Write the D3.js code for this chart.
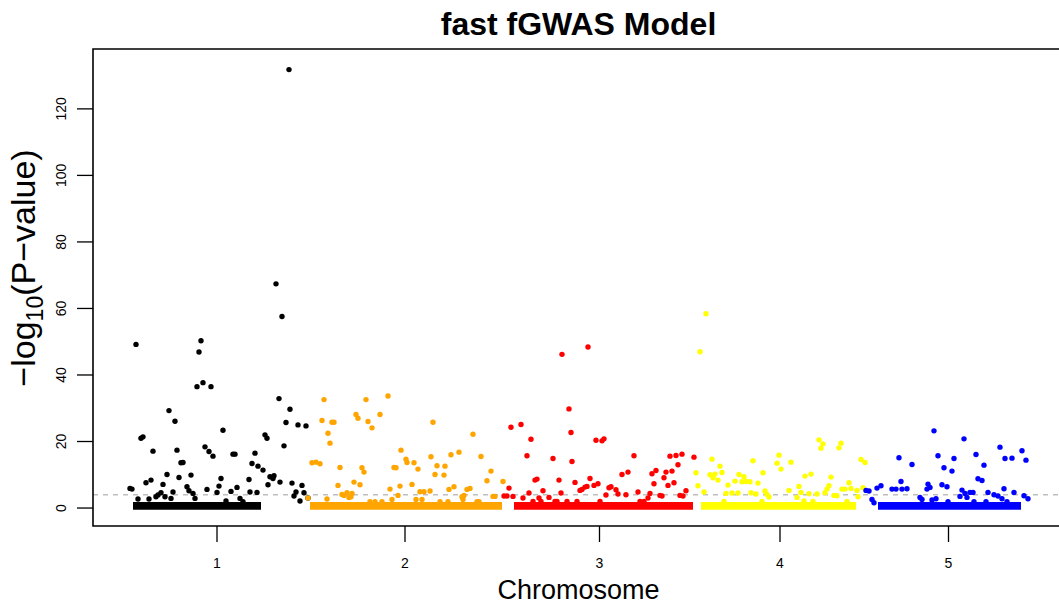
<!DOCTYPE html>
<html><head><meta charset="utf-8">
<script src="https://cdn.jsdelivr.net/npm/d3@7"></script>
<style>body{margin:0;background:#fff}svg{display:block}text{font-family:"Liberation Sans",Arial,Helvetica,sans-serif}</style>
</head><body><svg id="chart" width="1059" height="604"></svg>
<script>
// ---- data ----
const chromosomes = ["1","2","3","4","5"];
const chrColors = ["#000000","#FFA500","#FF0000","#FFFF00","#0000FF"];
const chrStart = [0,182,378,570,739];
const chrEnd   = [182,376,569,738,906];
// dense low-significance SNP bands (cumulative position ranges)
const bandStart = [7,184,388,575,752];
const bandEnd   = [135,376,567,730,895];
const bandLow = 0.3, bandHigh = 1.0;
const threshold = 4.0;
const yTicks = [0,20,40,60,80,100,120];

const chr1Pos = [10,75,73,71,77,85,150,156,163,43,49,153,164,160,172,180,15,17,97,139,141,27,51,79,83,87,55,57,107,109,129,158,126,132,137,144,148,147,154,166,176,41,65,53,20,25,37,95,123,142,4,6,61,63,67,81,93,91,111,105,124,131,170,168,178,174,182,30,32,35,39,47,45,12,23,69,100,114,117];
const chr1LogP = [49.2,50.3,46.9,36.5,37.7,36.5,67.4,57.6,131.8,29.3,26.1,32.9,29.7,25.7,25.0,24.7,21.0,21.4,23.4,22.0,21.0,17.1,17.4,18.4,17.0,15.6,13.6,13.7,16.2,16.2,16.5,18.7,13.4,12.6,11.4,9.4,9.7,8.9,7.8,7.5,6.8,10.1,9.9,9.2,7.6,8.4,7.1,8.9,8.6,7.0,5.9,5.7,6.4,5.2,4.4,5.6,6.6,4.7,6.2,5.0,4.8,4.7,4.8,3.6,4.6,2.1,3.0,3.4,3.9,4.6,3.4,4.8,2.9,2.7,2.7,2.9,2.1,2.9,1.9];

const chr2Pos = [198,240,262,196,206,208,230,232,254,242,246,202,204,307,347,275,186,190,194,214,236,238,280,281,288,292,268,270,305,311,319,309,318,325,333,355,365,361,377,228,234,212,274,264,286,328,323,341,344,216,221,223,225,226,218,294,298,304,272,266,290,296,336,338,337,367,369,182,201,244,249,256,314,322,351,353];
const chr2LogP = [32.6,32.6,33.7,26.3,25.8,25.8,28.1,27.0,28.1,26.0,24.1,22.5,19.5,25.8,22.2,17.4,13.6,13.8,13.3,12.2,12.1,10.8,14.7,13.7,13.6,11.7,12.2,12.1,15.4,12.7,12.6,10.1,9.9,16.0,16.8,15.5,11.1,8.2,8.0,7.8,7.0,6.8,6.6,5.7,7.1,6.4,5.6,5.6,5.9,4.1,4.6,3.2,3.4,4.4,3.8,4.9,4.9,5.1,3.8,2.6,2.6,2.6,3.4,3.8,2.6,3.5,3.5,3.0,2.7,1.9,1.9,1.9,1.9,1.9,1.9,1.9];

const chr3Pos = [436,462,443,445,385,395,405,470,476,478,401,427,446,508,544,550,556,568,552,526,530,496,502,540,546,538,409,411,433,464,449,459,468,472,461,483,485,454,456,528,542,548,383,417,435,490,492,403,560,554,557,378,381,387,480,500,512,524,534,536,397,413,423,522,407,415,429,431,441,451,474,514,518];
const chr3LogP = [46.2,48.4,29.8,22.7,24.3,25.1,20.7,20.4,20.2,20.8,15.7,14.9,14.0,15.7,15.6,15.8,16.2,15.3,13.0,10.3,11.3,10.1,10.8,10.8,11.1,9.1,8.4,8.7,8.4,8.9,7.7,6.3,6.8,7.3,6.5,6.1,6.4,5.3,5.6,7.3,6.8,7.6,6.0,5.2,4.5,5.5,4.2,4.5,5.2,3.8,3.6,3.6,3.6,3.5,3.9,4.0,4.8,4.4,3.8,3.6,3.0,3.0,3.2,3.0,2.0,2.0,2.0,2.0,2.0,2.0,2.0,2.0,2.0];

const chr4Pos = [580,574,693,697,695,715,713,586,653,651,655,665,627,735,739,594,596,570,584,589,587,592,637,613,618,616,620,624,609,632,679,685,705,572,602,673,675,703,701,699,723,725,716,719,737,731,578,600,606,612,625,630,639,641,643,663,671,678,683,691,708,711,732,598,636,687,721];
const chr4LogP = [58.4,47.0,20.5,19.3,18.0,19.5,18.1,14.7,15.9,13.5,11.7,13.8,14.2,14.6,13.7,12.6,10.7,10.6,10.0,10.2,9.1,8.4,10.6,10.1,9.4,7.9,8.0,7.9,8.1,7.5,9.6,10.2,9.3,6.7,6.9,6.5,4.7,6.7,5.7,4.6,7.6,5.9,5.7,5.7,6.1,5.3,4.8,4.4,4.5,4.5,4.6,4.2,5.1,4.1,3.3,5.3,3.2,2.1,4.3,4.2,3.8,3.7,3.4,2.0,2.0,2.0,2.0];

const chr5Pos = [808,838,874,896,900,879,886,773,812,828,850,786,818,826,858,775,852,856,755,751,802,801,804,816,821,766,770,776,781,740,743,836,839,844,847,834,841,862,868,872,876,878,888,898,902,794,796,806,810,746,748,822,848,860,881];
const chr5LogP = [23.2,20.8,18.3,17.2,14.4,14.9,15.0,15.1,15.7,14.9,16.1,13.1,12.1,11.1,12.9,8.0,8.8,8.3,6.7,6.0,7.2,5.7,6.2,7.0,6.4,5.7,5.7,5.7,5.8,5.3,5.1,5.4,4.4,4.7,4.7,3.5,3.2,4.7,4.0,3.6,2.8,5.8,4.7,3.7,2.8,3.2,2.6,2.4,2.8,2.6,1.6,1.9,1.9,1.9,1.9];

const posArrays = [chr1Pos,chr2Pos,chr3Pos,chr4Pos,chr5Pos];
const valArrays = [chr1LogP,chr2LogP,chr3LogP,chr4LogP,chr5LogP];

// ---- layout ----
const svg = d3.select("#chart");
const L = 93, R = 1064, T = 49, B = 526;
const x = d3.scaleLinear().domain([-33, 938]).range([L, R]);
const y = d3.scaleLinear().domain([-5.4, 138.0]).range([B, T]);
const ptR = 2.7;

// threshold line
svg.append("line").attr("x1", L).attr("x2", R)
  .attr("y1", y(threshold)).attr("y2", y(threshold))
  .attr("stroke", "#BEBEBE").attr("stroke-width", 1.3).attr("stroke-dasharray", "5,5");

// bands
svg.append("g").selectAll("rect").data(chromosomes).join("rect")
  .attr("x", (d,i) => x(bandStart[i]))
  .attr("width", (d,i) => x(bandEnd[i]) - x(bandStart[i]))
  .attr("y", y(bandHigh) - ptR)
  .attr("height", y(bandLow) - y(bandHigh) + 2*ptR)
  .attr("fill", (d,i) => chrColors[i]);

// points
chromosomes.forEach((c, i) => {
  const pts = posArrays[i].map((p, j) => ({p, v: valArrays[i][j]}));
  svg.append("g").selectAll("circle").data(pts).join("circle")
    .attr("cx", d => x(d.p)).attr("cy", d => y(d.v)).attr("r", ptR)
    .attr("fill", chrColors[i]);
});

// box (left, top, bottom)
svg.append("path")
  .attr("d", `M${R},${T}H${L}V${B}H${R}`)
  .attr("fill", "none").attr("stroke", "#000").attr("stroke-width", 1.6);

// y axis
const yAxis = svg.append("g");
yAxis.selectAll("line").data(yTicks).join("line")
  .attr("x1", L - 16).attr("x2", L).attr("y1", d => y(d)).attr("y2", d => y(d))
  .attr("stroke", "#000").attr("stroke-width", 1.3);
yAxis.selectAll("text").data(yTicks).join("text")
  .attr("transform", d => `translate(${L - 27},${y(d)}) rotate(-90)`)
  .attr("text-anchor", "middle").attr("font-size", 14).text(d => d);

// x axis
const tickPos = chromosomes.map((c,i) => (chrStart[i] + chrEnd[i]) / 2);
const xAxis = svg.append("g");
xAxis.selectAll("line").data(tickPos).join("line")
  .attr("x1", d => x(d)).attr("x2", d => x(d)).attr("y1", B).attr("y2", B + 16)
  .attr("stroke", "#000").attr("stroke-width", 1.3);
xAxis.selectAll("text").data(chromosomes).join("text")
  .attr("x", (d,i) => x(tickPos[i])).attr("y", B + 42)
  .attr("text-anchor", "middle").attr("font-size", 14).text(d => d);

// titles
svg.append("text").attr("x", (L + R) / 2).attr("y", 35)
  .attr("text-anchor", "middle").attr("font-size", 32).attr("font-weight", "bold")
  .text("fast fGWAS Model");
svg.append("text").attr("x", (L + R) / 2).attr("y", 599)
  .attr("text-anchor", "middle").attr("font-size", 27).text("Chromosome");
const yt = svg.append("text")
  .attr("transform", `translate(35,268) rotate(-90)`)
  .attr("text-anchor", "middle").attr("font-size", 34);
yt.append("tspan").text("\u2212log");
yt.append("tspan").attr("font-size", 23).attr("dy", 8).text("10");
yt.append("tspan").attr("dy", -8).text("(P\u2212value)");
</script></body></html>
